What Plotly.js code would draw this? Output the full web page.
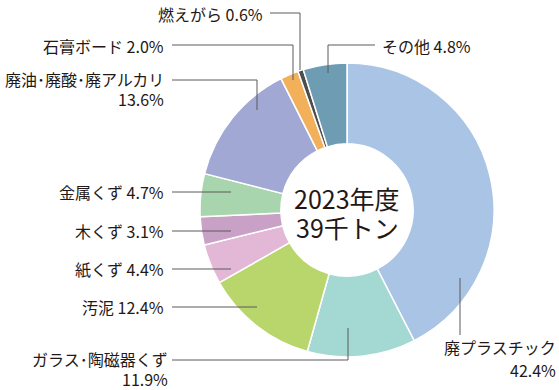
<!DOCTYPE html>
<html><head><meta charset="utf-8">
<script src="https://cdn.plot.ly/plotly-3.0.1.min.js"></script>
<style>html,body{margin:0;padding:0;background:#fff}#c{width:559px;height:390px}</style>
</head><body><div id="c"></div>
<script>
const categories = ['廃プラスチック','ガラス･陶磁器くず','汚泥','紙くず','木くず','金属くず','廃油･廃酸･廃アルカリ','石膏ボード','燃えがら','その他'];
const values = [42.4, 11.9, 12.4, 4.4, 3.1, 4.7, 13.6, 2.0, 0.6, 4.8];
const percentLabels = ['42.4%','11.9%','12.4%','4.4%','3.1%','4.7%','13.6%','2.0%','0.6%','4.8%'];
const centerLines = ['2023年度','39千トン'];
const colors = ['#a9c4e4','#a3d8d3','#b9d66c','#e2b8d6','#c9a0c6','#a8d5ae','#a0a8d3','#f3b05b','#4d4d4d','#6e9db3'];

const W = 559, H = 390;
const px = x => x / W, py = y => 1 - y / H;

// label layout in pixels: two = name and percent on separate lines
const labelPos = [
  {x:558, y:347, y2:370, two:true, xa:'right'},
  {x:170, y:359, y2:379, two:true, xa:'right'},
  {x:166, y:307, xa:'right'},
  {x:166, y:269, xa:'right'},
  {x:166, y:231, xa:'right'},
  {x:166, y:192, xa:'right'},
  {x:166, y:79, y2:99, two:true, xa:'right'},
  {x:166, y:46, xa:'right'},
  {x:265, y:14, xa:'right'},
  {x:380, y:46, xa:'left'}
];
const leaders = [
  [[460,278],[460,335]],
  [[172,360],[348,360],[348,328]],
  [[172,307],[257,307]],
  [[172,269],[231,269]],
  [[172,231],[231,231]],
  [[172,192],[231,192]],
  [[172,80],[257,80],[257,110]],
  [[172,45],[293,45],[293,80]],
  [[270,13],[300,13],[300,70]],
  [[375,45],[328,45],[328,73]]
];

const font = 'Noto Sans CJK JP, Noto Sans, sans-serif';
const txtFont = {family:font, size:16, color:'#231815'};
const annotations = [];
categories.forEach((c,i)=>{
  const L = labelPos[i];
  const base = {xref:'paper', yref:'paper', xanchor:L.xa, yanchor:'middle', showarrow:false, font:txtFont};
  if (L.two) {
    annotations.push(Object.assign({}, base, {x:px(L.x), y:py(L.y), text:c}));
    annotations.push(Object.assign({}, base, {x:px(L.x), y:py(L.y2), text:percentLabels[i]}));
  } else {
    annotations.push(Object.assign({}, base, {x:px(L.x), y:py(L.y), text:c + ' ' + percentLabels[i]}));
  }
});
const cFont = {family:font, size:25, color:'#231815'};
annotations.push({x:px(347), y:py(198), xref:'paper', yref:'paper', showarrow:false, text:centerLines[0], font:cFont, xanchor:'center', yanchor:'middle'});
annotations.push({x:px(347), y:py(227), xref:'paper', yref:'paper', showarrow:false, text:centerLines[1], font:cFont, xanchor:'center', yanchor:'middle'});

const shapes = leaders.map(pts=>({
  type:'path', xref:'paper', yref:'paper',
  path: pts.map((p,j)=>(j?'L':'M')+px(p[0])+','+py(p[1])).join(' '),
  line:{color:'#5a5a5a', width:1}
}));

const trace = {
  type:'pie', labels:categories, values:values, sort:false, direction:'clockwise', rotation:0,
  hole:0.45, textinfo:'none', hoverinfo:'label+percent',
  marker:{colors:colors, line:{color:'#ffffff', width:1.5}},
  domain:{x:[px(200), px(494)], y:[py(357), py(63)]}
};

Plotly.newPlot('c', [trace], {
  width:W, height:H, margin:{l:0,r:0,t:0,b:0}, showlegend:false,
  paper_bgcolor:'#fff', annotations:annotations, shapes:shapes
}, {displayModeBar:false, staticPlot:true});
</script></body></html>
